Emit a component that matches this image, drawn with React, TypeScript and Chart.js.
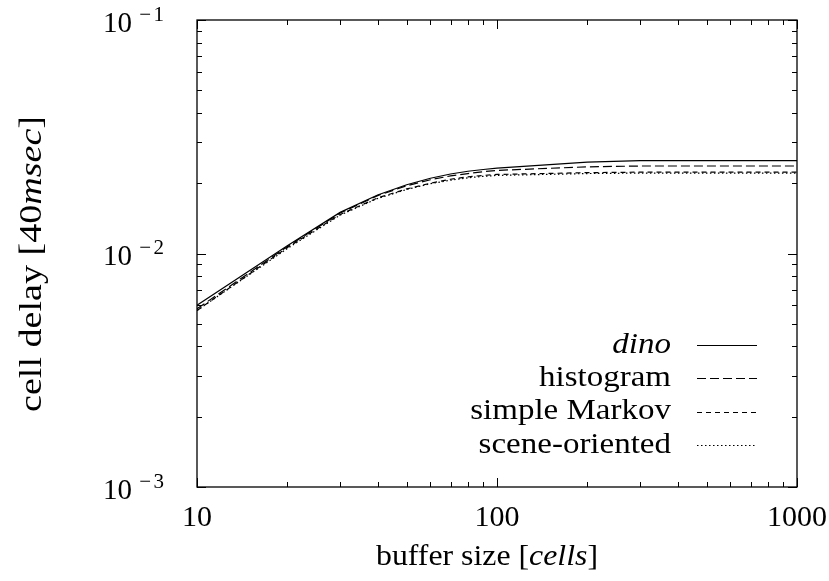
import { useEffect, useRef } from "react";
import { Chart, registerables } from "chart.js";

Chart.register(...registerables);

// Buffer sizes (cells) at which the delay was measured
const bufferSizes = [10, 20, 30, 40, 50, 60, 70, 80, 90, 100, 200, 300, 400, 500, 600, 700, 800, 900, 1000];

// Mean cell delay in units of 40 msec for each traffic model
const dinoDelay = [0.006, 0.0108, 0.015, 0.0178, 0.0197, 0.021, 0.0219, 0.0225, 0.0229, 0.0232, 0.0246, 0.025, 0.025, 0.025, 0.025, 0.025, 0.025, 0.025, 0.025];
const histogramDelay = [0.0058, 0.0107, 0.0149, 0.0177, 0.0195, 0.0207, 0.0215, 0.022, 0.0224, 0.0227, 0.0235, 0.0237, 0.0237, 0.0237, 0.0237, 0.0237, 0.0237, 0.0237, 0.0237];
const markovDelay = [0.0057, 0.0106, 0.0147, 0.0173, 0.0189, 0.02, 0.0208, 0.0213, 0.0216, 0.0218, 0.0222, 0.0223, 0.0223, 0.0223, 0.0223, 0.0223, 0.0223, 0.0223, 0.0223];
const sceneDelay = [0.0057, 0.0105, 0.0146, 0.0172, 0.0188, 0.0199, 0.0206, 0.0211, 0.0214, 0.0216, 0.022, 0.0221, 0.0221, 0.0221, 0.0221, 0.0221, 0.0221, 0.0221, 0.0221];

const seriesLabels = ["dino", "histogram", "simple Markov", "scene-oriented"];
const seriesItalic = [true, false, false, false];

const xTickValues = [10, 100, 1000];
const xTickLabels = ["10", "100", "1000"];
const yTickValues = [0.001, 0.01, 0.1];
const yTickExponents = ["3", "2", "1"];

const SERIF = '"Liberation Serif"';

type Piece = { text: string; italic?: boolean };

function fontOf(size: number, italic?: boolean) {
  return `${italic ? "italic " : ""}${size}px ${SERIF}`;
}

// Draws a run of upright/italic pieces centred on (cx, cy), stretched to a given width
function drawPieces(ctx: CanvasRenderingContext2D, pieces: Piece[], size: number, cx: number, cy: number, width: number) {
  const widths = pieces.map((p) => {
    ctx.font = fontOf(size, p.italic);
    return ctx.measureText(p.text).width;
  });
  const total = widths.reduce((a, b) => a + b, 0);
  ctx.save();
  ctx.translate(cx, cy);
  ctx.scale(width / total, 1);
  let x = -total / 2;
  ctx.textAlign = "left";
  ctx.textBaseline = "middle";
  pieces.forEach((p, i) => {
    ctx.font = fontOf(size, p.italic);
    ctx.fillText(p.text, x, 0);
    x += widths[i];
  });
  ctx.restore();
}

const framePlugin = {
  id: "gnuplotFrame",
  afterDraw(chart: any) {
    const { ctx, chartArea } = chart;
    const { left, right, top, bottom } = chartArea;
    const xs = chart.scales.x;
    const ys = chart.scales.y;
    ctx.save();
    ctx.strokeStyle = "#000";
    ctx.fillStyle = "#000";
    ctx.lineWidth = 1.3;
    ctx.strokeRect(left, top, right - left, bottom - top);

    // log ticks on all four sides, pointing inward
    ctx.lineWidth = 1;
    ctx.beginPath();
    for (let k = 1; k <= 3; k++) {
      for (let m = 1; m <= 9; m++) {
        const v = m * Math.pow(10, k);
        if (v < 10 || v > 1000) continue;
        const px = Math.round(xs.getPixelForValue(v)) + 0.5;
        const len = m === 1 ? 9 : 5;
        ctx.moveTo(px, bottom);
        ctx.lineTo(px, bottom - len);
        ctx.moveTo(px, top);
        ctx.lineTo(px, top + len);
      }
    }
    for (let k = -3; k <= -1; k++) {
      for (let m = 1; m <= 9; m++) {
        const v = m * Math.pow(10, k);
        if (v < 0.001 || v > 0.1 + 1e-12) continue;
        const py = Math.round(ys.getPixelForValue(v)) + 0.5;
        const len = m === 1 ? 9 : 5;
        ctx.moveTo(left, py);
        ctx.lineTo(left + len, py);
        ctx.moveTo(right, py);
        ctx.lineTo(right - len, py);
      }
    }
    ctx.stroke();

    // x tick labels
    ctx.font = fontOf(30);
    ctx.textAlign = "center";
    ctx.textBaseline = "middle";
    xTickValues.forEach((v, i) => {
      ctx.fillText(xTickLabels[i], xs.getPixelForValue(v), bottom + 31);
    });

    // y tick labels: 10 with a raised negative exponent
    yTickValues.forEach((v, i) => {
      const py = ys.getPixelForValue(v);
      ctx.textBaseline = "middle";
      ctx.textAlign = "right";
      ctx.font = fontOf(21);
      ctx.fillText(yTickExponents[i], left - 33, py - 5);
      ctx.fillText("\u2212", left - 46, py - 5);
      ctx.font = fontOf(29);
      ctx.fillText("10", left - 65, py + 4);
    });

    // axis titles
    drawPieces(ctx, [{ text: "buffer size [" }, { text: "cells", italic: true }, { text: "]" }], 30, 487, bottom + 70, 222);
    ctx.save();
    ctx.translate(33, 264);
    ctx.rotate(-Math.PI / 2);
    drawPieces(ctx, [{ text: "cell delay [40" }, { text: "msec", italic: true }, { text: "]" }], 32, 0, 0, 296);
    ctx.restore();

    // key in the lower right corner
    const datasets = chart.data.datasets;
    datasets.forEach((ds: any, i: number) => {
      const y = 345 + i * 33.3;
      ctx.save();
      ctx.translate(671, y);
      ctx.scale(1.1, 1);
      ctx.font = fontOf(30, seriesItalic[i]);
      ctx.textAlign = "right";
      ctx.textBaseline = "middle";
      ctx.fillText(ds.label, 0, 0);
      ctx.restore();
      ctx.beginPath();
      ctx.setLineDash(ds.borderDash || []);
      ctx.lineWidth = ds.borderWidth;
      ctx.moveTo(697, Math.round(y) + 0.5);
      ctx.lineTo(757, Math.round(y) + 0.5);
      ctx.stroke();
      ctx.setLineDash([]);
    });
    ctx.restore();
  },
};

export default function App() {
  const canvasRef = useRef<HTMLCanvasElement | null>(null);

  useEffect(() => {
    document.body.style.margin = "0";
    const canvas = canvasRef.current;
    if (!canvas) return;
    const series = [dinoDelay, histogramDelay, markovDelay, sceneDelay];
    const dashes = [[], [9, 4], [5, 4], [1.5, 2.5]];
    const chart = new Chart(canvas, {
      type: "line",
      data: {
        datasets: series.map((vals, i) => ({
          label: seriesLabels[i],
          data: bufferSizes.map((b, j) => ({ x: b, y: vals[j] })),
          borderColor: "#000",
          borderWidth: 1.2,
          borderDash: dashes[i],
          pointRadius: 0,
          fill: false,
          tension: 0,
        })),
      },
      options: {
        responsive: false,
        animation: false,
        devicePixelRatio: 1,
        layout: { padding: { top: 20, right: 32, left: 0, bottom: 0 } },
        plugins: { legend: { display: false }, tooltip: { enabled: false } },
        scales: {
          x: {
            type: "logarithmic",
            min: 10,
            max: 1000,
            ticks: { display: false },
            grid: { display: false },
            border: { display: false },
            afterFit: (s: any) => {
              s.height = 94;
            },
          },
          y: {
            type: "logarithmic",
            min: 0.001,
            max: 0.1,
            ticks: { display: false },
            grid: { display: false },
            border: { display: false },
            afterFit: (s: any) => {
              s.width = 197;
            },
          },
        },
      },
      plugins: [framePlugin],
    } as any);
    // redraw once the serif faces are ready so the labels use them
    let alive = true;
    const fonts = (document as any).fonts;
    if (fonts && fonts.load) {
      Promise.all([fonts.load(fontOf(30)), fonts.load(fontOf(30, true))])
        .then(() => {
          if (alive) chart.draw();
        })
        .catch(() => {});
    }
    return () => {
      alive = false;
      chart.destroy();
    };
  }, []);

  return (
    <div style={{ position: "absolute", left: 0, top: 0, width: 829, height: 581, background: "#fff" }}>
      <canvas ref={canvasRef} width={829} height={581} />
    </div>
  );
}
